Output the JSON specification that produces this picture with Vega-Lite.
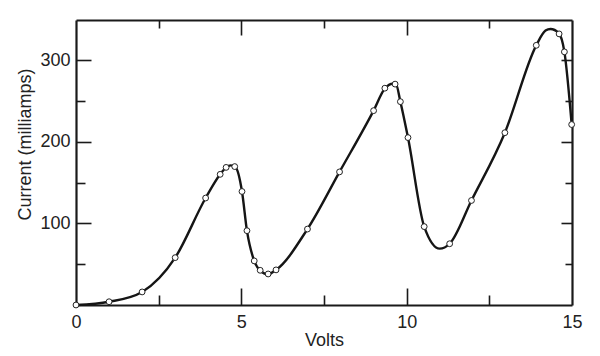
{
  "$schema": "https://vega.github.io/schema/vega-lite/v6.json",
  "width": 496,
  "height": 285,
  "autosize": "none",
  "padding": {"left": 76, "top": 20, "right": 28, "bottom": 51},
  "background": "white",
  "config": {
    "view": {"stroke": null},
    "axis": {"grid": false, "labelFont": "Liberation Sans", "titleFont": "Liberation Sans", "labelColor": "#222", "titleColor": "#222", "tickColor": "#1a1a1a", "domainColor": "#1a1a1a", "tickWidth": 1.6, "domainWidth": 2.2, "labelFontSize": 18, "titleFontSize": 18, "titleFontWeight": "normal"}
  },
  "datasets": {
    "curve": [
      {"v": 0, "c": 0}, {"v": 1, "c": 4}, {"v": 2, "c": 16}, {"v": 3, "c": 58},
      {"v": 3.92, "c": 131}, {"v": 4.36, "c": 160}, {"v": 4.54, "c": 168.5}, {"v": 4.68, "c": 171},
      {"v": 4.82, "c": 169}, {"v": 5.02, "c": 139}, {"v": 5.17, "c": 91}, {"v": 5.39, "c": 54},
      {"v": 5.57, "c": 42}, {"v": 5.8, "c": 37.5}, {"v": 6.05, "c": 43}, {"v": 7, "c": 93},
      {"v": 7.97, "c": 163}, {"v": 9, "c": 238}, {"v": 9.34, "c": 265}, {"v": 9.58, "c": 271},
      {"v": 9.68, "c": 270}, {"v": 9.81, "c": 249}, {"v": 10.04, "c": 205}, {"v": 10.53, "c": 96},
      {"v": 11.0, "c": 69}, {"v": 11.3, "c": 75}, {"v": 11.96, "c": 128}, {"v": 12.97, "c": 211},
      {"v": 13.92, "c": 318}, {"v": 14.2, "c": 336}, {"v": 14.35, "c": 338}, {"v": 14.6, "c": 333},
      {"v": 14.77, "c": 310}, {"v": 14.99, "c": 221}
    ],
    "obs": [
      {"v": 0, "c": 0}, {"v": 1, "c": 4}, {"v": 2, "c": 16}, {"v": 3, "c": 58},
      {"v": 3.92, "c": 131}, {"v": 4.36, "c": 160}, {"v": 4.54, "c": 168.5}, {"v": 4.8, "c": 169.5},
      {"v": 5.02, "c": 139}, {"v": 5.17, "c": 91}, {"v": 5.39, "c": 54}, {"v": 5.57, "c": 42.5},
      {"v": 5.81, "c": 38}, {"v": 6.05, "c": 43}, {"v": 7, "c": 93}, {"v": 7.97, "c": 163},
      {"v": 9, "c": 238}, {"v": 9.34, "c": 265.5}, {"v": 9.65, "c": 270.5}, {"v": 9.81, "c": 249},
      {"v": 10.04, "c": 205}, {"v": 10.53, "c": 96}, {"v": 11.3, "c": 75}, {"v": 11.96, "c": 128},
      {"v": 12.97, "c": 211}, {"v": 13.92, "c": 318}, {"v": 14.61, "c": 332}, {"v": 14.77, "c": 310},
      {"v": 14.99, "c": 221}
    ]
  },
  "resolve": {"axis": {"x": "independent", "y": "independent"}},
  "layer": [
    {
      "data": {"name": "curve"},
      "mark": {"type": "line", "interpolate": "monotone", "color": "#151515", "strokeWidth": 2.4},
      "encoding": {
        "x": {"field": "v", "type": "quantitative", "scale": {"domain": [0, 15], "nice": false, "zero": false},
          "axis": {"orient": "bottom", "values": [0, 5, 10, 15], "ticks": false, "labelPadding": 8, "labelFlush": false, "domain": true, "title": "Volts", "titleY": 26, "titleBaseline": "top"}},
        "y": {"field": "c", "type": "quantitative", "scale": {"domain": [0, 349], "nice": false},
          "axis": {"orient": "left", "values": [100, 200, 300], "ticks": false, "labelPadding": 6, "domain": true, "title": "Current (milliamps)", "titleX": -42, "titleY": 124, "titleBaseline": "bottom", "titleAngle": -90}}
      }
    },
    {
      "data": {"name": "obs"},
      "mark": {"type": "point", "shape": "circle", "filled": false, "fill": "white", "fillOpacity": 1, "stroke": "#222", "strokeWidth": 1, "size": 34, "opacity": 1},
      "encoding": {
        "x": {"field": "v", "type": "quantitative",
          "axis": {"orient": "bottom", "values": [5, 10], "tickSize": -17, "labels": false, "domain": false, "title": null}},
        "y": {"field": "c", "type": "quantitative",
          "axis": {"orient": "left", "values": [100, 200, 300], "tickSize": -15, "labels": false, "domain": false, "title": null}}
      }
    },
    {
      "data": {"name": "obs"},
      "mark": {"type": "point", "opacity": 0},
      "encoding": {
        "x": {"field": "v", "type": "quantitative",
          "axis": {"orient": "bottom", "values": [2.5, 7.5, 12.5], "tickSize": -10, "labels": false, "domain": false, "title": null}},
        "y": {"field": "c", "type": "quantitative",
          "axis": {"orient": "left", "values": [50, 150, 250], "tickSize": -9, "labels": false, "domain": false, "title": null}}
      }
    },
    {
      "data": {"name": "obs"},
      "mark": {"type": "point", "opacity": 0},
      "encoding": {
        "x": {"field": "v", "type": "quantitative",
          "axis": {"orient": "top", "values": [5, 10], "tickSize": -15, "labels": false, "domain": true, "title": null}},
        "y": {"field": "c", "type": "quantitative",
          "axis": {"orient": "right", "values": [100, 200, 300], "tickSize": -11, "labels": false, "domain": true, "title": null}}
      }
    },
    {
      "data": {"name": "obs"},
      "mark": {"type": "point", "opacity": 0},
      "encoding": {
        "x": {"field": "v", "type": "quantitative",
          "axis": {"orient": "top", "values": [2.5, 7.5, 12.5], "tickSize": -8, "labels": false, "domain": false, "title": null}},
        "y": {"field": "c", "type": "quantitative",
          "axis": {"orient": "right", "values": [50, 150, 250], "tickSize": -7, "labels": false, "domain": false, "title": null}}
      }
    }
  ]
}
